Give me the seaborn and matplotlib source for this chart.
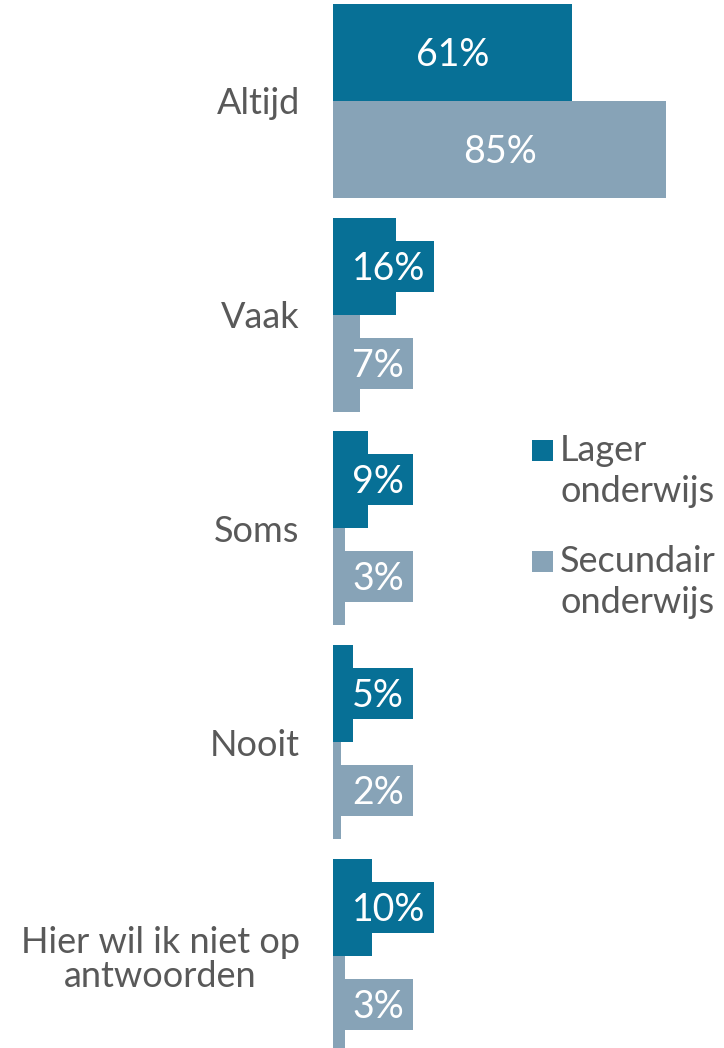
import matplotlib
matplotlib.use("Agg")
import matplotlib.pyplot as plt
import seaborn as sns
import pandas as pd
from matplotlib.patches import Rectangle

categories = ["Altijd", "Vaak", "Soms", "Nooit", "Hier wil ik niet op\nantwoorden"]
lager = [61, 16, 9, 5, 10]
secundair = [85, 7, 3, 2, 3]
series_names = ["Lager onderwijs", "Secundair onderwijs"]
legend_lines = [["Lager", "onderwijs"], ["Secundair", "onderwijs"]]
colors = ["#077096", "#87A3B7"]

df = pd.DataFrame({
    "cat": categories * 2,
    "val": lager + secundair,
    "group": [series_names[0]] * len(categories) + [series_names[1]] * len(categories),
})

sns.set_theme(style="white")
plt.rcParams["font.family"] = ["Lato", "DejaVu Sans"]
text_color = "#595959"

W, H = 724, 1048
fig = plt.figure(figsize=(W / 100, H / 100), dpi=100)
x0 = 333
ax = fig.add_axes([x0 / W, 0, (W - x0) / W, 1])

sns.barplot(data=df, y="cat", x="val", hue="group", order=categories,
            hue_order=series_names, palette=colors, saturation=1,
            width=0.908, orient="h", ax=ax, legend=False, linewidth=0)

px_per_pct = 3.92
spacing = 213.7
ax.set_xlim(0, (W - x0) / px_per_pct)
ax.set_ylim((H - 101) / spacing, -101 / spacing)

ax.set_xlabel("")
ax.set_ylabel("")
ax.set_xticks([])
ax.tick_params(axis="y", length=0, pad=24, labelsize=26, labelcolor=text_color)
for lbl in ax.get_yticklabels():
    lbl.set_multialignment("center")
    lbl.set_linespacing(1.05)
for s in ax.spines.values():
    s.set_visible(False)

fig.canvas.draw()
renderer = fig.canvas.get_renderer()
val_fs = 27
cap_half = 13.5 / spacing  # half digit height in data units

for c, col in zip(ax.containers, colors):
    for bar in c:
        v = bar.get_width()
        yc = bar.get_y() + bar.get_height() / 2
        label = f"{v:.0f}%"
        if v > 20:
            ax.text(v / 2, yc + cap_half, label, ha="center", va="baseline",
                    color="white", fontsize=val_fs, zorder=5)
        else:
            tx = (352 - x0) / px_per_pct
            t = ax.text(tx, yc + cap_half, label, ha="left", va="baseline",
                        color="white", fontsize=val_fs, zorder=5)
            ext = t.get_window_extent(renderer)
            tw = ext.width / px_per_pct
            bx0 = (341 - x0) / px_per_pct
            bx1 = tx + tw + 9 / px_per_pct
            bh = 51 / spacing
            ax.add_patch(Rectangle((bx0, yc - bh / 2), bx1 - bx0, bh,
                                   fc=col, ec="none", zorder=4))

# legend (drawn manually, marker aligned with first line)
entries = [(461, 502), (572, 613)]
for (b1, b2), lines, col in zip(entries, legend_lines, colors):
    fig.patches.append(Rectangle((532 / W, 1 - b1 / H), 21 / W, 21 / H,
                                 transform=fig.transFigure, fc=col, ec="none"))
    fig.text(560 / W, 1 - b1 / H, lines[0], ha="left", va="baseline",
             fontsize=26, color=text_color)
    fig.text(560 / W, 1 - b2 / H, lines[1], ha="left", va="baseline",
             fontsize=26, color=text_color)

fig.savefig("out.png", dpi=100)
